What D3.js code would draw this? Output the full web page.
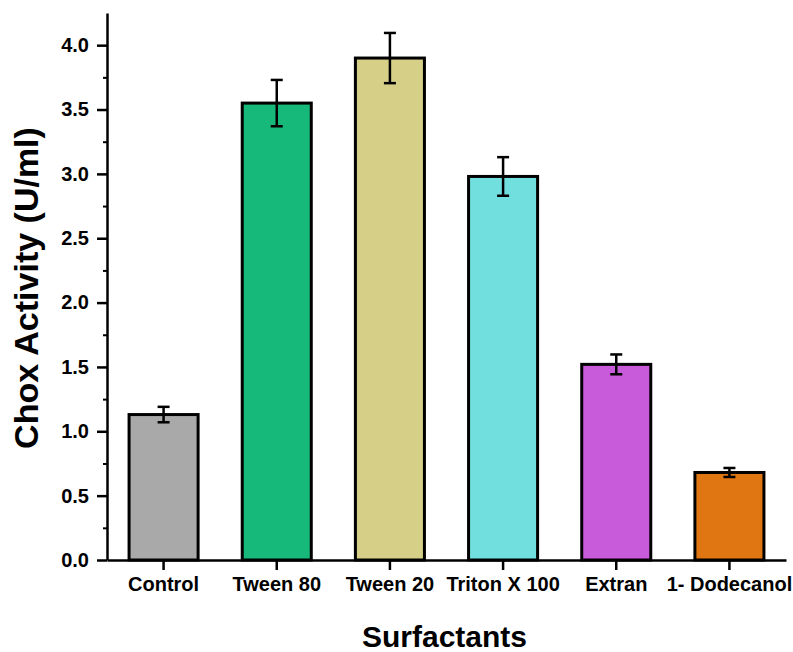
<!DOCTYPE html>
<html>
<head>
<meta charset="utf-8">
<script src="https://cdn.jsdelivr.net/npm/d3@7"></script>
<style>
	body { margin: 0; background: #fff; }
	text { font-family: "Liberation Sans", Arial, sans-serif; font-weight: bold; fill: #000; }
</style>
</head>
<body>
<div id="chart"></div>
<script>
const categories = ['Control', 'Tween 80', 'Tween 20', 'Triton X 100', 'Extran', '1- Dodecanol'];
const activity = [1.13, 3.55, 3.90, 2.98, 1.52, 0.68];
const errors = [0.06, 0.18, 0.195, 0.15, 0.077, 0.035];
const barColors = ['#a9a9a9', '#17b97b', '#d6cf87', '#72dfdf', '#c85bda', '#e07612'];
const yTicks = [0, 0.5, 1.0, 1.5, 2.0, 2.5, 3.0, 3.5, 4.0];
const yMinorTicks = [0.25, 0.75, 1.25, 1.75, 2.25, 2.75, 3.25, 3.75];

(() => {
	const W = 793, H = 652;
	const plot = { left: 107, right: 786, top: 13, bottom: 560 };

	const svg = d3.select('#chart').append('svg')
		.attr('width', W)
		.attr('height', H);

	const x = d3.scaleBand()
		.domain(categories)
		.range([plot.left, plot.right])
		.paddingInner(0.39)
		.paddingOuter(0.195);
	const y = d3.scaleLinear()
		.domain([0, 4.25])
		.range([plot.bottom, plot.top]);

	// bars
	svg.append('g').selectAll('rect')
		.data(activity)
		.join('rect')
			.attr('x', (d, i) => x(categories[i]))
			.attr('y', d => y(d))
			.attr('width', x.bandwidth())
			.attr('height', d => plot.bottom - y(d))
			.style('fill', (d, i) => barColors[i])
			.style('stroke', '#000')
			.style('stroke-width', 3);

	// error bars
	const err = svg.append('g')
		.style('stroke', '#000')
		.style('stroke-width', 2.5);
	activity.forEach((v, i) => {
		const cx = x(categories[i]) + x.bandwidth() / 2;
		const hi = y(v + errors[i]), lo = y(v - errors[i]);
		err.append('line').attr('x1', cx).attr('x2', cx).attr('y1', hi).attr('y2', lo);
		err.append('line').attr('x1', cx - 6).attr('x2', cx + 6).attr('y1', hi).attr('y2', hi);
		err.append('line').attr('x1', cx - 6).attr('x2', cx + 6).attr('y1', lo).attr('y2', lo);
	});

	// y axis
	const yAxis = d3.axisLeft(y)
		.tickValues(yTicks)
		.tickSize(10)
		.tickSizeOuter(0)
		.tickPadding(8)
		.tickFormat(d3.format('.1f'));
	const yAxisG = svg.append('g')
		.attr('transform', `translate(${plot.left}, 0)`)
		.call(yAxis);
	yAxisG.selectAll('text').style('font-size', '20px');
	yAxisG.selectAll('line, path').style('stroke', '#000').style('stroke-width', 2.5);

	const yMinor = svg.append('g')
		.attr('transform', `translate(${plot.left}, 0)`)
		.call(d3.axisLeft(y).tickValues(yMinorTicks).tickSize(4).tickFormat(''));
	yMinor.select('.domain').remove();
	yMinor.selectAll('line').style('stroke', '#000').style('stroke-width', 2);

	// x axis
	const xAxis = d3.axisBottom(x)
		.tickSize(10)
		.tickSizeOuter(0)
		.tickPadding(7);
	const xAxisG = svg.append('g')
		.attr('transform', `translate(0, ${plot.bottom})`)
		.call(xAxis);
	xAxisG.selectAll('text').style('font-size', '20px');
	xAxisG.selectAll('line, path').style('stroke', '#000').style('stroke-width', 2.5);

	// labels
	svg.append('text')
		.attr('x', (plot.left + plot.right) / 2 - 2)
		.attr('y', 647)
		.style('font-size', '30px')
		.style('text-anchor', 'middle')
		.text('Surfactants');
	svg.append('text')
		.attr('transform', 'rotate(-90)')
		.attr('x', -288)
		.attr('y', 38)
		.style('font-size', '34px')
		.style('text-anchor', 'middle')
		.text('Chox Activity (U/ml)');
})();
</script>
</body>
</html>
